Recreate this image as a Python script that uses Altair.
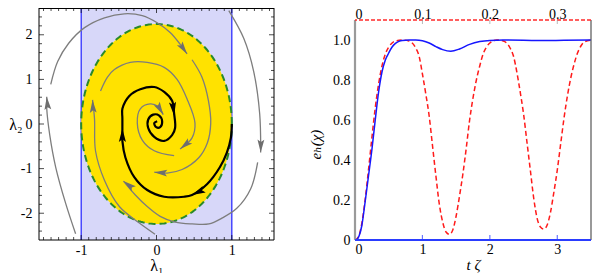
import altair as alt
import numpy as np
import pandas as pd

FONT = "Liberation Serif, DejaVu Serif, serif"

# ---------------- right panel values ----------------
t_blue = [0.0, 0.03, 0.06, 0.1, 0.15, 0.2, 0.25, 0.3, 0.35, 0.4,
          0.45, 0.5, 0.55, 0.6, 0.65, 0.7, 0.8, 0.9, 1.0, 1.1,
          1.2, 1.3, 1.42, 1.55, 1.7, 1.85, 2.0, 2.2, 2.5, 2.8,
          3.1, 3.5]
e_blue = [0.0, 0.003, 0.02, 0.07, 0.19, 0.32, 0.45, 0.6, 0.74, 0.84,
          0.9, 0.935, 0.965, 0.983, 0.993, 0.998, 1.0, 1.0, 0.996, 0.985,
          0.967, 0.952, 0.944, 0.955, 0.978, 0.992, 0.998, 1.0, 0.999, 0.997,
          0.999, 1.0]
t_red = [0.0, 0.05, 0.1, 0.15, 0.2, 0.25, 0.3, 0.35, 0.4, 0.45, 0.5, 0.55, 0.6,
         0.7, 0.8, 0.9, 0.95,
         1.0, 1.05, 1.1, 1.15, 1.2, 1.25, 1.3, 1.35, 1.4, 1.45, 1.5, 1.55, 1.6,
         1.65, 1.7, 1.75, 1.8, 1.85, 1.9, 1.95, 2.0,
         2.1, 2.2, 2.3,
         2.35, 2.4, 2.45, 2.5, 2.55, 2.6, 2.65, 2.7, 2.75, 2.8, 2.85, 2.9, 2.95,
         3.0, 3.05, 3.1, 3.15, 3.2, 3.25, 3.3, 3.35, 3.4,
         3.5]
e_red = [0.0, 0.015, 0.08, 0.2, 0.35, 0.51, 0.66, 0.78, 0.87, 0.93, 0.965, 0.985, 0.995,
         1.0, 0.995, 0.96, 0.92,
         0.83, 0.73, 0.62, 0.47, 0.32, 0.18, 0.09, 0.04, 0.028, 0.05, 0.12, 0.22, 0.33,
         0.46, 0.6, 0.71, 0.8, 0.87, 0.93, 0.965, 0.985,
         1.0, 0.995, 0.96,
         0.92, 0.84, 0.74, 0.63, 0.49, 0.35, 0.21, 0.11, 0.065, 0.055, 0.075, 0.14, 0.24,
         0.35, 0.48, 0.61, 0.72, 0.81, 0.88, 0.935, 0.97, 0.99,
         1.0]
right_x_ticks = [0, 1, 2, 3]
right_y_ticks = [0, 0.2, 0.4, 0.6, 0.8, 1.0]
top_labels = [0, 0.1, 0.2, 0.3]
top_tick_marks = [0.1, 0.2, 0.3]
bottom_tick_marks = [1, 2, 3]
R_XDOM = [0, 3.5]
R_YTOP = 1.1

# ---------------- left panel values ----------------
L_XDOM = [-1.56, 1.56]
L_YDOM = [-2.6, 2.6]
band_x = [-1.0, 1.0]
ell_cx, ell_cy = 0.0, 0.0
ell_a, ell_b = 1.0, 2.24
left_x_ticks = [-1, 0, 1]
left_y_ticks = [-2, -1, 0, 1, 2]

gray_x = {
    "A": [-1.074, -1.206, -1.338, -1.417, -1.457, -1.457],
    "B": [-1.404, -1.312, -1.166, -0.955, -0.691, -0.427, -0.189, 0.009, 0.181, 0.313, 0.406],
    "C": [0.472, 0.604, 0.690, 0.720, 0.676, 0.564, 0.340, 0.141, -0.030],
    "D": [-0.743, -0.651, -0.559, -0.348, -0.123, 0.102, 0.273, 0.406, 0.511, 0.472, 0.313],
    "E": [0.234, -0.030, -0.189, -0.255, -0.215, -0.083, 0.022, 0.089],
    "F": [-0.020, -0.228, -0.493, -0.691, -0.810, -0.823, -0.849],
    "G": [0.960, 1.158, 1.290, 1.370, 1.383],
    "H": [1.343, 1.251, 1.066, 0.868, 0.696, 0.472, 0.247, 0.049, -0.123, -0.281, -0.439],
}
gray_y = {
    "A": [-2.46, -1.78, -0.97, -0.25, 0.34, 0.61],
    "B": [0.89, 1.40, 1.81, 2.16, 2.38, 2.47, 2.43, 2.27, 2.05, 1.79, 1.57],
    "C": [1.44, 1.05, 0.52, 0.02, -0.42, -0.75, -1.02, -1.10, -1.08],
    "D": [0.74, 1.05, 1.22, 1.38, 1.38, 1.27, 1.00, 0.56, 0.02, -0.31, -0.56],
    "E": [-0.71, -0.60, -0.36, 0.02, 0.34, 0.45, 0.39, 0.21],
    "F": [-2.47, -2.22, -1.85, -1.26, -0.60, 0.12, 0.54],
    "G": [2.54, 1.92, 1.18, 0.23, -0.64],
    "H": [-0.86, -1.45, -1.89, -2.11, -2.24, -2.24, -2.20, -2.07, -1.85, -1.59, -1.28],
}
gray_arrow_x = [-1.457, 0.406, -0.030, 0.313, 0.089, -0.849, 1.383, -0.439]
gray_arrow_y = [0.61, 1.57, -1.08, -0.56, 0.21, 0.54, -0.64, -1.28]
gray_arrow_ang = [355, 145, 274, 231, 150, 357, 181, 307]

black_x = [1.0, 0.987, 0.934, 0.841, 0.670, 0.472, 0.366, 0.102, -0.123, -0.295,
           -0.413, -0.453, -0.453, -0.453, -0.453, -0.361, -0.215, -0.030, 0.102, 0.207,
           0.234, 0.247, 0.207, 0.102, -0.030, -0.110, -0.110, -0.044, 0.036, 0.075,
           0.049, -0.004, -0.030, 0.009]
black_y = [0.0, -0.31, -0.64, -0.97, -1.35, -1.59, -1.63, -1.63, -1.48, -1.19,
           -0.75, -0.38, -0.14, 0.13, 0.34, 0.63, 0.78, 0.83, 0.72, 0.52,
           0.23, -0.09, -0.25, -0.38, -0.29, -0.09, 0.10, 0.21, 0.19, 0.06,
           -0.07, -0.07, 0.02, 0.06]
black_arrow_x = [0.472, -0.453, 0.234]
black_arrow_y = [-1.59, -0.10, 0.19]
black_arrow_ang = [245, 0, 173]

ARROW = "M0,0L0.45,1.7L0,1.38L-0.45,1.7Z"

W1, H1 = 235, 232
W2, H2 = 236, 232
TOPGAP = 12

# ---------------- build left panel ----------------
xs1 = alt.Scale(domain=L_XDOM, nice=False, zero=False)
ys1 = alt.Scale(domain=L_YDOM, nice=False, zero=False)
one = pd.DataFrame({"d": [0]})

x_axis1 = alt.Axis(values=left_x_ticks, labelExpr="toString(datum.value)", domain=False,
                   ticks=False, grid=False, labelPadding=3, title="λ₁", titlePadding=0,
                   titleFontSize=16)
y_axis1 = alt.Axis(values=left_y_ticks, labelExpr="toString(datum.value)", domain=False,
                   ticks=False, grid=False, labelPadding=7, title="λ₂", titleAngle=0,
                   titleAlign="right", titleBaseline="middle", titleX=-17, titleY=H1 / 2,
                   titleFontSize=16)

band_df = pd.DataFrame({"x": [band_x[0]], "x2": [band_x[1]],
                        "y": [L_YDOM[0]], "y2": [L_YDOM[1]]})
band = alt.Chart(band_df).mark_rect(color="#d7d7f9").encode(
    x=alt.X("x:Q", scale=xs1, axis=x_axis1), x2="x2:Q",
    y=alt.Y("y:Q", scale=ys1, axis=y_axis1), y2="y2:Q")

band_lines = alt.Chart(pd.DataFrame({"x": band_x})).mark_rule(
    color="#1f1fff", strokeWidth=1.2).encode(x=alt.X("x:Q", scale=xs1))

th = np.linspace(np.pi, 0, 181)
area_df = pd.DataFrame({"x": ell_cx + ell_a * np.cos(th),
                        "y": ell_cy + ell_b * np.sin(th),
                        "y2": ell_cy - ell_b * np.sin(th)})
ell_area = alt.Chart(area_df).mark_area(color="#ffe200", opacity=1).encode(
    x=alt.X("x:Q", scale=xs1), y=alt.Y("y:Q", scale=ys1), y2="y2:Q")

th2 = np.linspace(0, 2 * np.pi, 241)
outline_df = pd.DataFrame({"x": ell_cx + ell_a * np.cos(th2),
                           "y": ell_cy + ell_b * np.sin(th2), "i": np.arange(len(th2))})
ell_line = alt.Chart(outline_df).mark_line(color="#2a8a2a", strokeWidth=2,
                                           strokeDash=[7, 4]).encode(
    x=alt.X("x:Q", scale=xs1), y=alt.Y("y:Q", scale=ys1), order="i:Q")

rows = []
for k in gray_x:
    for i, (gx, gy) in enumerate(zip(gray_x[k], gray_y[k])):
        rows.append({"seg": k, "i": i, "x": gx, "y": gy})
gray_df = pd.DataFrame(rows)
gray_lines = alt.Chart(gray_df).mark_line(color="#7d7d7d", strokeWidth=1.3,
                                          interpolate="catmull-rom", clip=True).encode(
    x=alt.X("x:Q", scale=xs1), y=alt.Y("y:Q", scale=ys1), detail="seg:N", order="i:Q")

black_df = pd.DataFrame({"x": black_x, "y": black_y, "i": range(len(black_x))})
black_line = alt.Chart(black_df).mark_line(color="black", strokeWidth=2.2,
                                           interpolate="catmull-rom").encode(
    x=alt.X("x:Q", scale=xs1), y=alt.Y("y:Q", scale=ys1), order="i:Q")

garr_df = pd.DataFrame({"x": gray_arrow_x, "y": gray_arrow_y, "a": gray_arrow_ang})
gray_arrows = alt.Chart(garr_df).mark_point(shape=ARROW, filled=True, size=230,
                                            color="#6e6e6e", opacity=1).encode(
    x=alt.X("x:Q", scale=xs1), y=alt.Y("y:Q", scale=ys1),
    angle=alt.Angle("a:Q", scale=None))
barr_df = pd.DataFrame({"x": black_arrow_x, "y": black_arrow_y, "a": black_arrow_ang})
black_arrows = alt.Chart(barr_df).mark_point(shape=ARROW, filled=True, size=250,
                                             color="black", opacity=1).encode(
    x=alt.X("x:Q", scale=xs1), y=alt.Y("y:Q", scale=ys1),
    angle=alt.Angle("a:Q", scale=None))

frame1 = alt.layer(
    alt.Chart(one).mark_rule(color="black", strokeWidth=1).encode(x=alt.value(0)),
    alt.Chart(one).mark_rule(color="black", strokeWidth=1).encode(x=alt.value(W1)),
    alt.Chart(one).mark_rule(color="black", strokeWidth=1).encode(y=alt.value(0.5)),
    alt.Chart(one).mark_rule(color="black", strokeWidth=1).encode(y=alt.value(H1)),
)

xminor = [v for v in np.round(np.arange(-1.5, 1.51, 0.1), 2) if abs(v - round(v)) > 1e-6]
yminor = [v for v in np.round(np.arange(-2.4, 2.41, 0.2), 2) if abs(v - round(v)) > 1e-6]


def xticks(vals, L, top):
    return alt.Chart(pd.DataFrame({"x": vals})).mark_tick(
        orient="vertical", color="black", thickness=1, size=L).encode(
        x=alt.X("x:Q", scale=xs1), y=alt.value(L / 2 if top else H1 - L / 2))


def yticks(vals, L, right):
    return alt.Chart(pd.DataFrame({"y": vals})).mark_tick(
        orient="horizontal", color="black", thickness=1, size=L).encode(
        y=alt.Y("y:Q", scale=ys1), x=alt.value(W1 - L / 2 if right else L / 2))


ticks1 = alt.layer(
    xticks(xminor, 3, False), xticks(xminor, 3, True),
    xticks(left_x_ticks, 5, False), xticks(left_x_ticks, 5, True),
    yticks(yminor, 3, False), yticks(yminor, 3, True),
    yticks(left_y_ticks, 5, False), yticks(left_y_ticks, 5, True),
)

left = alt.layer(band, band_lines, ell_area, ell_line, gray_lines, black_line,
                 gray_arrows, black_arrows, frame1, ticks1).properties(width=W1, height=H1)

# ---------------- build right panel ----------------
ymax = R_YTOP * H2 / (H2 - TOPGAP)
xs2 = alt.Scale(domain=R_XDOM, nice=False, zero=False)
ys2 = alt.Scale(domain=[0, ymax], nice=False, zero=False)
lab01 = "datum.value == 0 ? '0' : format(datum.value, '.1f')"

x_axis2 = alt.Axis(values=right_x_ticks, labelExpr="toString(datum.value)", domain=False,
                   ticks=False, grid=False, labelPadding=2, title="t ζ", titlePadding=1,
                   titleFontStyle="italic", titleFontSize=15)
y_axis2 = alt.Axis(values=right_y_ticks, labelExpr=lab01, domain=False, ticks=False,
                   grid=False, labelPadding=5, title="eₕ(χ)", titleFontStyle="italic",
                   titleAngle=270, titleX=-40, titleY=136, titleBaseline="middle",
                   titleAlign="center", titleFontSize=15)

blue_df = pd.DataFrame({"t": t_blue, "e": e_blue})
red_df = pd.DataFrame({"t": t_red, "e": e_red})

blue_line = alt.Chart(blue_df).mark_line(color="#1616ff", strokeWidth=1.5,
                                         interpolate="monotone").encode(
    x=alt.X("t:Q", scale=xs2, axis=x_axis2), y=alt.Y("e:Q", scale=ys2, axis=y_axis2))
red_line = alt.Chart(red_df).mark_line(color="#ff1a1a", strokeWidth=1.5,
                                       strokeDash=[5, 3], interpolate="monotone").encode(
    x=alt.X("t:Q", scale=xs2), y=alt.Y("e:Q", scale=ys2))

frame2 = alt.layer(
    alt.Chart(one).mark_rule(color="#9a9a9a", strokeWidth=2.2).encode(
        x=alt.datum(R_XDOM[0]), y=alt.datum(0), y2=alt.datum(R_YTOP)),
    alt.Chart(one).mark_rule(color="#555555", strokeWidth=1.2).encode(
        x=alt.datum(R_XDOM[1]), y=alt.datum(0), y2=alt.datum(R_YTOP)),
    alt.Chart(one).mark_rule(color="#2a3cff", strokeWidth=2).encode(y=alt.datum(0)),
    alt.Chart(one).mark_rule(color="#ff2a2a", strokeWidth=1.5, strokeDash=[4, 2]).encode(
        y=alt.datum(R_YTOP)),
)

bticks = alt.Chart(pd.DataFrame({"t": bottom_tick_marks})).mark_tick(
    orient="vertical", color="#2a3cff", thickness=1.2, size=4).encode(
    x=alt.X("t:Q", scale=xs2), y=alt.value(H2 - 3))

main2 = alt.layer(red_line, blue_line, frame2, bticks)

top_axis = alt.Axis(orient="top", values=top_labels, labelExpr=lab01, domain=False,
                    ticks=False, grid=False, offset=-TOPGAP, labelPadding=1.5,
                    labelBaseline="alphabetic", title=None)
tticks = alt.Chart(pd.DataFrame({"v": top_tick_marks})).mark_tick(
    orient="vertical", color="#999999", thickness=1, size=4).encode(
    x=alt.X("v:Q", scale=alt.Scale(domain=[R_XDOM[0] / 10, R_XDOM[1] / 10], nice=False,
                                   zero=False), axis=top_axis),
    y=alt.value(TOPGAP + 2))

right = alt.layer(main2, tticks).resolve_scale(x="independent").properties(
    width=W2, height=H2)

chart = alt.hconcat(left, right, spacing=81, bounds="flush").properties(
    padding={"left": 0, "top": -2, "right": 2, "bottom": 0}
).configure_axis(
    labelFont=FONT, titleFont=FONT, labelFontSize=14, titleFontSize=15,
    labelColor="black", titleColor="black", titleFontWeight="normal"
).configure_view(stroke="transparent")

chart.save("out.html", embed_options={"renderer": "svg", "actions": False})
